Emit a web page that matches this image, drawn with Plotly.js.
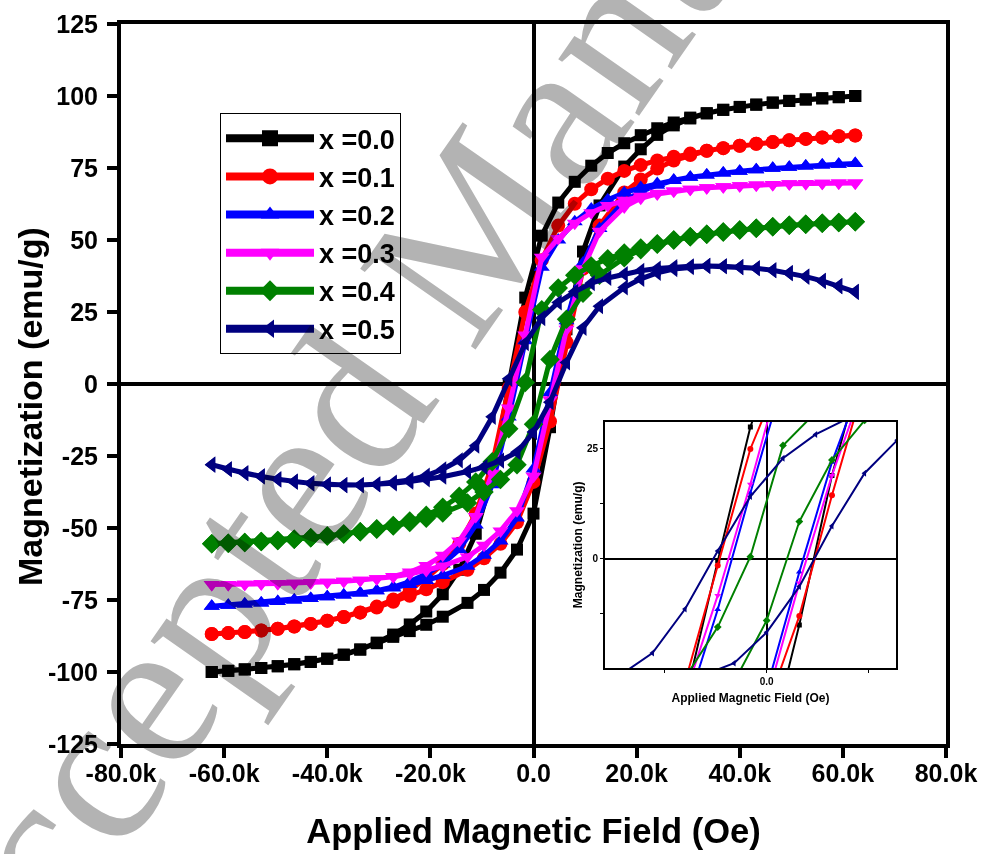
<!DOCTYPE html>
<html>
<head>
<meta charset="utf-8">
<script src="https://cdn.plot.ly/plotly-3.0.1.min.js"></script>
<style>
html,body{margin:0;padding:0;background:#fff;}
#chart{width:985px;height:854px;overflow:hidden;}
.js-plotly-plot .infolayer .annotation[data-index="0"]{mix-blend-mode:multiply;}
</style>
</head>
<body>
<div id="chart"></div>
<script>
// Applied field (Oe), descending branch (+sat -> -sat)
const fieldDown = [62400, 59200, 56000, 52800, 49600, 46400, 43200, 40000, 36800, 33600, 30400, 27200, 24000, 20800, 17600, 14400, 11200, 8000, 4800, 1600,
  -1600, -4800, -8000, -11200, -14400, -17600, -20800, -24000, -27200, -30400, -33600, -36800, -40000, -43200, -46400, -49600, -52800, -56000, -59200, -62400];
// Applied field (Oe), ascending branch (-sat -> +sat)
const fieldUp = [-62400, -59200, -56000, -52800, -49600, -46400, -43200, -40000, -36800, -33600, -30400, -27200, -24000, -20800, -17600,
  -12800, -9600, -6400, -3200, 0, 3200, 6400, 9600, 12800,
  17600, 20800, 24000, 27200, 30400, 33600, 36800, 40000, 43200, 46400, 49600, 52800, 56000, 59200, 62400];

// Magnetization (emu/g)
const magDown00 = [100.0, 99.6, 99.2, 98.8, 98.3, 97.7, 97.0, 96.2, 95.2, 94.0, 92.5, 90.8, 88.8, 86.4, 83.6, 80.2, 75.8, 70.2, 63.0, 51.5,
  30.0, -0.5, -32.0, -52.0, -64.5, -73.0, -79.0, -83.5, -87.0, -89.8, -92.2, -94.0, -95.4, -96.5, -97.3, -98.0, -98.6, -99.1, -99.6, -100.0];
const magUp00 = [-100.0, -99.6, -99.1, -98.6, -98.0, -97.3, -96.5, -95.4, -94.0, -92.2, -90.0, -87.8, -85.8, -83.6, -80.8,
  -76.0, -71.5, -65.5, -57.5, -45.0, -15.0, 19.0, 46.0, 62.0,
  75.5, 81.5, 86.5, 89.8, 92.2, 94.0, 95.2, 96.2, 97.0, 97.7, 98.3, 98.8, 99.2, 99.6, 100.0];

const magDown01 = [86.3, 86.0, 85.6, 85.1, 84.6, 84.0, 83.4, 82.7, 81.9, 81.0, 80.0, 78.9, 77.6, 76.0, 74.0, 71.3, 67.6, 62.6, 55.0, 43.0,
  25.0, -1.5, -28.0, -45.0, -55.5, -62.5, -67.5, -71.5, -74.8, -77.3, -79.3, -80.9, -82.2, -83.3, -84.2, -85.0, -85.6, -86.1, -86.5, -86.8];
const magUp01 = [-86.8, -86.5, -86.1, -85.6, -85.0, -84.2, -83.3, -82.2, -80.9, -79.4, -77.6, -75.6, -73.5, -71.3, -68.8,
  -64.5, -60.5, -55.5, -48.0, -34.0, -13.0, 14.5, 40.0, 55.0,
  66.5, 71.0, 74.8, 77.6, 79.5, 81.0, 81.9, 82.7, 83.4, 84.0, 84.6, 85.1, 85.6, 86.0, 86.3];

const magDown02 = [76.6, 76.3, 76.0, 75.7, 75.3, 74.9, 74.4, 73.9, 73.3, 72.6, 71.8, 70.8, 69.6, 68.2, 66.4, 64.0, 60.8, 56.3, 50.0, 40.5,
  15.0, -11.5, -35.0, -49.0, -57.5, -62.5, -66.0, -68.6, -70.5, -71.8, -72.6, -73.3, -73.9, -74.5, -75.0, -75.5, -76.0, -76.4, -76.8, -77.2];
const magUp02 = [-77.2, -76.8, -76.4, -76.0, -75.5, -75.0, -74.5, -73.9, -73.3, -72.6, -71.8, -70.8, -69.6, -68.2, -66.5,
  -63.3, -59.5, -54.5, -46.5, -29.5, -3.0, 22.0, 42.0, 54.0,
  63.5, 66.8, 69.0, 70.7, 71.8, 72.6, 73.3, 73.9, 74.4, 74.9, 75.3, 75.7, 76.0, 76.3, 76.6];

const magDown03 = [69.8, 69.8, 69.7, 69.6, 69.5, 69.3, 69.1, 68.8, 68.5, 68.1, 67.6, 67.0, 66.2, 65.2, 63.8, 62.0, 59.5, 55.8, 50.5, 44.0,
  17.0, -8.3, -31.0, -46.0, -54.5, -59.5, -63.0, -65.3, -66.8, -67.6, -68.1, -68.5, -68.8, -69.0, -69.2, -69.3, -69.4, -69.5, -69.6, -69.6];
const magUp03 = [-69.6, -69.6, -69.5, -69.4, -69.3, -69.2, -69.0, -68.8, -68.5, -68.1, -67.6, -66.9, -66.0, -64.8, -63.2,
  -60.0, -56.0, -51.0, -44.0, -32.0, -5.5, 19.0, 40.0, 53.0,
  61.5, 64.5, 66.0, 67.0, 67.6, 68.1, 68.5, 68.8, 69.1, 69.3, 69.5, 69.6, 69.7, 69.8, 69.8];

const magDown04 = [56.3, 56.1, 55.8, 55.5, 55.1, 54.6, 54.1, 53.5, 52.8, 52.0, 51.1, 50.0, 48.7, 47.2, 45.5, 43.5, 41.0, 37.8, 33.3, 25.8,
  0.5, -15.5, -27.0, -34.0, -39.0, -42.8, -45.6, -47.6, -49.1, -50.3, -51.3, -52.1, -52.8, -53.4, -53.9, -54.3, -54.7, -55.0, -55.3, -55.5];
const magUp04 = [-55.5, -55.3, -55.0, -54.7, -54.3, -53.9, -53.4, -52.8, -52.1, -51.3, -50.4, -49.3, -48.1, -46.6, -44.8,
  -41.3, -37.5, -33.2, -28.0, -14.0, 8.5, 22.5, 31.5, 37.8,
  43.8, 46.6, 48.5, 50.0, 51.1, 52.0, 52.8, 53.5, 54.1, 54.6, 55.1, 55.5, 55.8, 56.1, 56.3];

const magDown05 = [32.0, 34.0, 35.8, 37.3, 38.5, 39.5, 40.2, 40.6, 40.9, 41.0, 40.9, 40.6, 40.1, 39.3, 38.2, 36.8, 35.0, 32.0, 28.3, 22.9,
  14.2, 1.8, -11.4, -21.4, -26.5, -29.6, -31.8, -33.3, -34.2, -34.8, -35.1, -35.1, -34.9, -34.5, -33.9, -33.1, -32.1, -31.0, -29.6, -28.0];
const magUp05 = [-28.0, -29.6, -31.0, -32.1, -33.1, -33.9, -34.5, -34.9, -35.1, -35.1, -34.9, -34.5, -33.9, -33.1, -32.2,
  -30.4, -28.8, -26.6, -23.7, -16.7, -6.3, 7.5, 19.5, 27.0,
  33.5, 36.5, 38.6, 39.9, 40.6, 41.0, 40.9, 40.6, 40.2, 39.5, 38.5, 37.3, 35.8, 34.0, 32.0];

const seriesNames = ['x =0.0', 'x =0.1', 'x =0.2', 'x =0.3', 'x =0.4', 'x =0.5'];
const xTickVals = [-80000, -60000, -40000, -20000, 0, 20000, 40000, 60000, 80000];
const xTickText = ['-80.0k', '-60.0k', '-40.0k', '-20.0k', '0.0', '20.0k', '40.0k', '60.0k', '80.0k'];
const yTickVals = [-125, -100, -75, -50, -25, 0, 25, 50, 75, 100, 125];
const yTickText = ['-125', '-100', '-75', '-50', '-25', '0', '25', '50', '75', '100', '125'];
const insetXTickVals = [-10000, 0, 10000];
const insetXTickText = ['', '0.0', ''];
const insetYTickVals = [-12.5, 0, 12.5, 25];
const insetYTickText = ['', '0', '', '25'];

// styles
const colors = ['#000000', '#ff0000', '#0000ff', '#ff00ff', '#008000', '#000080'];
const symbols = ['square', 'circle', 'triangle-up', 'triangle-down', 'diamond', 'triangle-left'];
const mainSizes = [12, 14, 14, 14, 15, 14];
const insetSizes = [5, 6, 6, 6, 6, 6];

const downs = [magDown00, magDown01, magDown02, magDown03, magDown04, magDown05];
const ups = [magUp00, magUp01, magUp02, magUp03, magUp04, magUp05];

const traces = [];
seriesNames.forEach((name, i) => {
  traces.push({
    type: 'scatter', mode: 'lines+markers', name: name, legendgroup: 'g' + i, showlegend: false,
    x: fieldDown.concat(fieldUp), y: downs[i].concat(ups[i]),
    xaxis: 'x', yaxis: 'y',
    line: {color: colors[i], width: 5},
    marker: {symbol: symbols[i], size: mainSizes[i], color: colors[i]}
  });
});
seriesNames.forEach((name, i) => {
  traces.push({
    type: 'scatter', mode: 'lines+markers', name: name, legendgroup: 'g' + i, showlegend: false,
    x: fieldDown.concat(fieldUp), y: downs[i].concat(ups[i]),
    xaxis: 'x2', yaxis: 'y2',
    line: {color: colors[i], width: 2},
    marker: {symbol: symbols[i], size: insetSizes[i], color: colors[i]}
  });
});
// legend entries (thicker key lines as in the original legend)
seriesNames.forEach((name, i) => {
  traces.push({
    type: 'scatter', mode: 'lines+markers', name: name, legendgroup: 'g' + i, showlegend: true,
    x: [null], y: [null], xaxis: 'x', yaxis: 'y', hoverinfo: 'skip',
    line: {color: colors[i], width: 8},
    marker: {symbol: symbols[i], size: 16, color: colors[i]}
  });
});

const font = 'Liberation Sans, Arial, Helvetica, sans-serif';
const layout = {
  width: 985, height: 854,
  margin: {l: 121, r: 39, t: 24, b: 110},
  paper_bgcolor: '#ffffff', plot_bgcolor: '#ffffff',
  font: {family: font, color: '#000000'},
  showlegend: true,
  legend: {
    x: 0.12, y: 0.876, xanchor: 'left', yanchor: 'top',
    bgcolor: '#ffffff', bordercolor: '#000000', borderwidth: 1,
    font: {family: font, size: 27, weight: 'bold', color: '#000000'},
    tracegroupgap: 0, itemwidth: 88
  },
  xaxis: {
    domain: [0, 1], range: [-80000, 80000], tickmode: 'array', tickvals: xTickVals, ticktext: xTickText,
    ticks: 'outside', ticklen: 10, tickwidth: 4, tickcolor: '#000000', ticklabelstandoff: -6,
    showline: true, linewidth: 4, linecolor: '#000000', mirror: true,
    zeroline: true, zerolinewidth: 4, zerolinecolor: '#000000', showgrid: false,
    tickfont: {family: font, size: 25, weight: 'bold'},
    title: {text: 'Applied Magnetic Field (Oe)', font: {family: font, size: 34.5, weight: 'bold'}, standoff: 34}
  },
  yaxis: {
    domain: [0, 1], range: [-125, 125], tickmode: 'array', tickvals: yTickVals, ticktext: yTickText,
    ticks: 'outside', ticklen: 10, tickwidth: 4, tickcolor: '#000000', ticklabelstandoff: 4,
    showline: true, linewidth: 4, linecolor: '#000000', mirror: true,
    zeroline: true, zerolinewidth: 4, zerolinecolor: '#000000', showgrid: false,
    tickfont: {family: font, size: 25, weight: 'bold'}
  },
  xaxis2: {
    domain: [0.5867, 0.9394], anchor: 'y2', range: [-15850, 12680], tickmode: 'array',
    tickvals: insetXTickVals, ticktext: insetXTickText,
    ticks: 'outside', ticklen: 3, tickwidth: 1, tickcolor: '#000000',
    showline: true, linewidth: 2, linecolor: '#000000', mirror: true,
    zeroline: true, zerolinewidth: 2, zerolinecolor: '#000000', showgrid: false,
    tickfont: {family: font, size: 10, weight: 'bold'},
    title: {text: 'Applied Magnetic Field (Oe)', font: {family: font, size: 12, weight: 'bold'}, standoff: 8}
  },
  yaxis2: {
    domain: [0.1056, 0.4476], anchor: 'x2', range: [-24.8, 31.2], tickmode: 'array',
    tickvals: insetYTickVals, ticktext: insetYTickText,
    ticks: 'outside', ticklen: 3, tickwidth: 1, tickcolor: '#000000',
    showline: true, linewidth: 2, linecolor: '#000000', mirror: true,
    zeroline: true, zerolinewidth: 2, zerolinecolor: '#000000', showgrid: false,
    tickfont: {family: font, size: 10, weight: 'bold'},
    title: {text: 'Magnetization (emu/g)', font: {family: font, size: 12, weight: 'bold'}, standoff: 2}
  },
  annotations: [{
    text: 'Accepted Manuscript', xref: 'paper', yref: 'paper', x: 0.3939, y: 0.6639,
    xanchor: 'center', yanchor: 'middle', showarrow: false, textangle: -55,
    font: {family: 'Liberation Serif, Times New Roman, serif', size: 215, color: '#b3b3b3'}
  }, {
    text: 'Magnetization (emu/g)', xref: 'paper', yref: 'paper', x: -0.1103, y: 0.468,
    xanchor: 'center', yanchor: 'middle', showarrow: false, textangle: -90,
    font: {family: font, size: 34, weight: 'bold', color: '#000000'}
  }]
};

Plotly.newPlot('chart', traces, layout, {displayModeBar: false, staticPlot: true});
</script>
</body>
</html>
